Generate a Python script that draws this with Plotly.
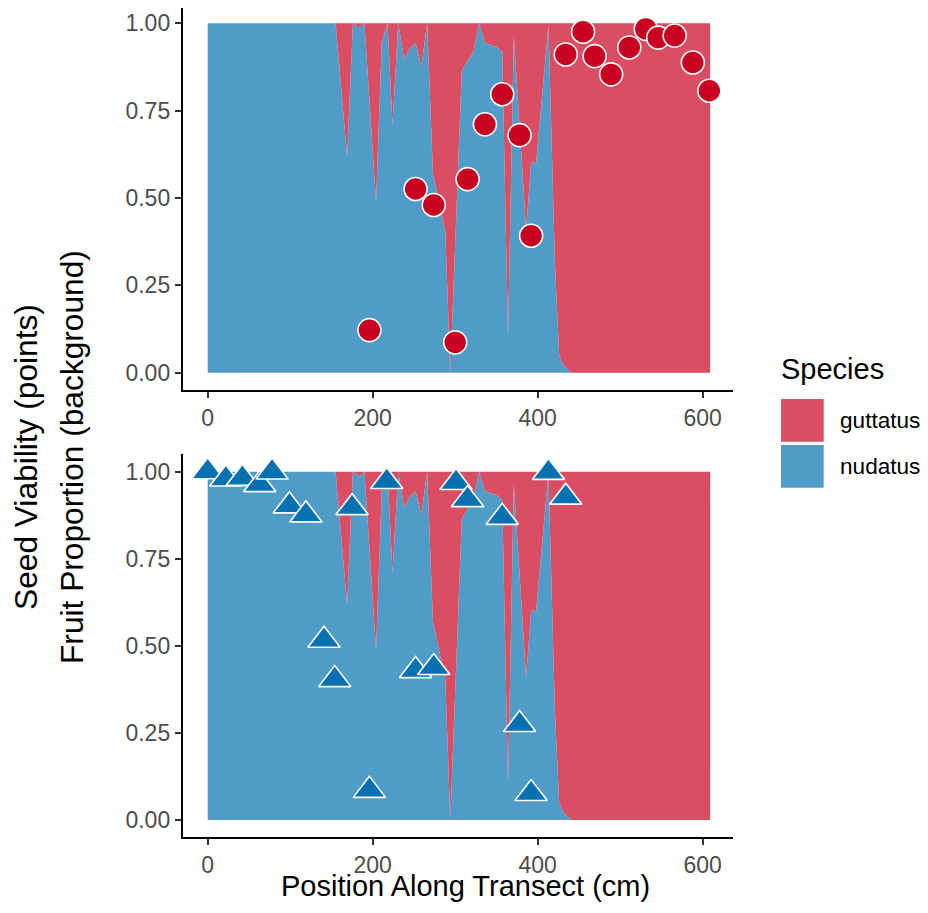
import plotly.graph_objects as go

# ---- Background: fruit proportion along the transect ----
transect_pos = [0, 155, 169, 176, 183, 190, 204, 211, 218, 224, 231, 238, 245, 252, 259, 266,
                273, 288, 294, 308, 322, 329, 336, 350, 357, 364, 371, 386, 392, 398, 413, 421,
                426, 431, 441, 609]
nudatus_prop = [1.000, 1.000, 0.618, 1.000, 0.986, 1.000, 0.487, 0.947, 1.000, 0.709, 1.000,
                0.897, 0.928, 0.943, 0.878, 1.000, 0.571, 0.404, 0.000, 0.866, 0.919, 1.000,
                0.944, 0.933, 0.919, 0.103, 0.966, 0.408, 0.604, 0.599, 0.995, 0.303, 0.051,
                0.022, 0.000, 0.000]
guttatus_prop = [0.000, 0.000, 0.382, 0.000, 0.014, 0.000, 0.513, 0.053, 0.000, 0.291, 0.000,
                 0.103, 0.072, 0.057, 0.122, 0.000, 0.429, 0.596, 1.000, 0.134, 0.081, 0.000,
                 0.056, 0.067, 0.081, 0.897, 0.034, 0.592, 0.396, 0.401, 0.005, 0.697, 0.949,
                 0.978, 1.000, 1.000]

# ---- Points: seed viability ----
guttatus_pos = [196, 252, 274, 300, 315, 336, 357, 378, 392, 434, 455, 469, 489, 511, 531,
                546, 566, 588, 608]
guttatus_viab = [0.122, 0.526, 0.480, 0.087, 0.554, 0.711, 0.797, 0.680, 0.392, 0.911, 0.976,
                 0.906, 0.854, 0.931, 0.984, 0.959, 0.965, 0.888, 0.807]

nudatus_pos = [0, 22, 42, 63, 78, 99, 119, 141, 154, 175, 196, 217, 252, 274, 301, 315, 357,
               378, 392, 413, 434]
nudatus_viab = [1.000, 0.979, 0.981, 0.963, 0.999, 0.902, 0.876, 0.516, 0.403, 0.897, 0.085,
                0.972, 0.429, 0.438, 0.969, 0.920, 0.869, 0.274, 0.076, 0.998, 0.927]

y_ticks = [0, 0.25, 0.5, 0.75, 1.0]
y_ticktext = ["0.00", "0.25", "0.50", "0.75", "1.00"]
x_ticks = [0, 200, 400, 600]
x_ticktext = ["0", "200", "400", "600"]

species = ["guttatus", "nudatus"]

RED_AREA = "#DA4D63"
BLUE_AREA = "#509CC8"
RED_PT = "#CA0020"
BLUE_PT = "#0571B0"
FONT = "Liberation Sans, Arial, Helvetica, sans-serif"

# the page body adds an 8px margin on every side; size the figure to fit inside it
OFF = 8
W, H = 928 - 2 * OFF, 913 - 2 * OFF


def px(x):
    return (x - OFF) / W


def py(y):
    return 1 - (y - OFF) / H


fig = go.Figure()

for ax in ["", "2"]:
    xa, ya = "x" + ax, "y" + ax
    fig.add_trace(go.Scatter(x=transect_pos, y=nudatus_prop, mode="lines", stackgroup="s" + ax,
                             line=dict(width=0), fillcolor=BLUE_AREA, xaxis=xa, yaxis=ya,
                             showlegend=False, hoverinfo="skip"))
    fig.add_trace(go.Scatter(x=transect_pos, y=guttatus_prop, mode="lines", stackgroup="s" + ax,
                             line=dict(width=0), fillcolor=RED_AREA, xaxis=xa, yaxis=ya,
                             showlegend=False, hoverinfo="skip"))

fig.add_trace(go.Scatter(x=guttatus_pos, y=guttatus_viab, mode="markers", xaxis="x", yaxis="y",
                         marker=dict(symbol="circle", size=23, color=RED_PT,
                                     line=dict(color="white", width=1.6)),
                         showlegend=False, cliponaxis=False))
fig.add_trace(go.Scatter(x=nudatus_pos, y=nudatus_viab, mode="markers", xaxis="x2", yaxis="y2",
                         marker=dict(symbol="triangle-up", size=28, color=BLUE_PT,
                                     line=dict(color="white", width=1.6)),
                         showlegend=False, cliponaxis=False))

xdom = [px(182.7), px(733)]
# top panel: y=0 at 372.7px, y=1 at 23.3px; its top edge has to stop at the figure edge
unit_top = 372.7 - 23.3
top_range = [-0.05, -0.05 + (390.2 - OFF) / unit_top]
top_dom = [py(390.2), 1.0]
bot_dom = [py(837.4), py(454.3)]

common_x = dict(range=[-30.3, 636.7], tickvals=x_ticks, ticktext=x_ticktext, showgrid=False,
                zeroline=False, showline=True, linecolor="black", linewidth=1.8,
                ticks="outside", ticklen=6, tickwidth=1.5, tickcolor="#333333",
                tickfont=dict(size=23, color="#4D4D4D", family=FONT), automargin=False,
                domain=xdom)
common_y = dict(tickvals=y_ticks, ticktext=y_ticktext, showgrid=False,
                zeroline=False, showline=True, linecolor="black", linewidth=1.8,
                ticks="outside", ticklen=6, tickwidth=1.5, tickcolor="#333333",
                tickfont=dict(size=23, color="#4D4D4D", family=FONT), automargin=False)

fig.update_layout(
    width=W, height=H, margin=dict(l=0, r=0, t=0, b=0),
    plot_bgcolor="white", paper_bgcolor="white", showlegend=False,
    font=dict(family=FONT, color="black"),
    xaxis=dict(**common_x, anchor="y"),
    yaxis=dict(**common_y, range=top_range, domain=top_dom, anchor="x"),
    xaxis2=dict(**common_x, anchor="y2"),
    yaxis2=dict(**common_y, range=[-0.05, 1.05], domain=bot_dom, anchor="x2"),
)

annotations = [
    dict(text="Position Along Transect (cm)", x=px(466), y=py(904), xref="paper",
         yref="paper", xanchor="center", yanchor="bottom", showarrow=False,
         font=dict(size=29, color="black", family=FONT)),
    dict(text="Seed Viability (points)", x=px(26), y=py(457), xref="paper", yref="paper",
         xanchor="center", yanchor="middle", textangle=-90, showarrow=False,
         font=dict(size=31.7, color="black", family=FONT)),
    dict(text="Fruit Proportion (background)", x=px(72), y=py(457), xref="paper",
         yref="paper", xanchor="center", yanchor="middle", textangle=-90, showarrow=False,
         font=dict(size=31.7, color="black", family=FONT)),
    dict(text="Species", x=px(779), y=py(369), xref="paper", yref="paper",
         xanchor="left", yanchor="middle", showarrow=False,
         font=dict(size=29, color="black", family=FONT)),
]
shapes = []
key_colors = [RED_AREA, BLUE_AREA]
key_tops = [399, 445]
for name, col, top in zip(species, key_colors, key_tops):
    shapes.append(dict(type="rect", xref="paper", yref="paper", x0=px(781), x1=px(823.7),
                       y0=py(top + 42.7), y1=py(top), fillcolor=col,
                       line=dict(width=0)))
    annotations.append(dict(text=name, x=px(838), y=py(top + 21.3), xref="paper",
                            yref="paper", xanchor="left", yanchor="middle", showarrow=False,
                            font=dict(size=22.6, color="black", family=FONT)))

fig.update_layout(annotations=annotations, shapes=shapes)
fig.write_html("out.html")
